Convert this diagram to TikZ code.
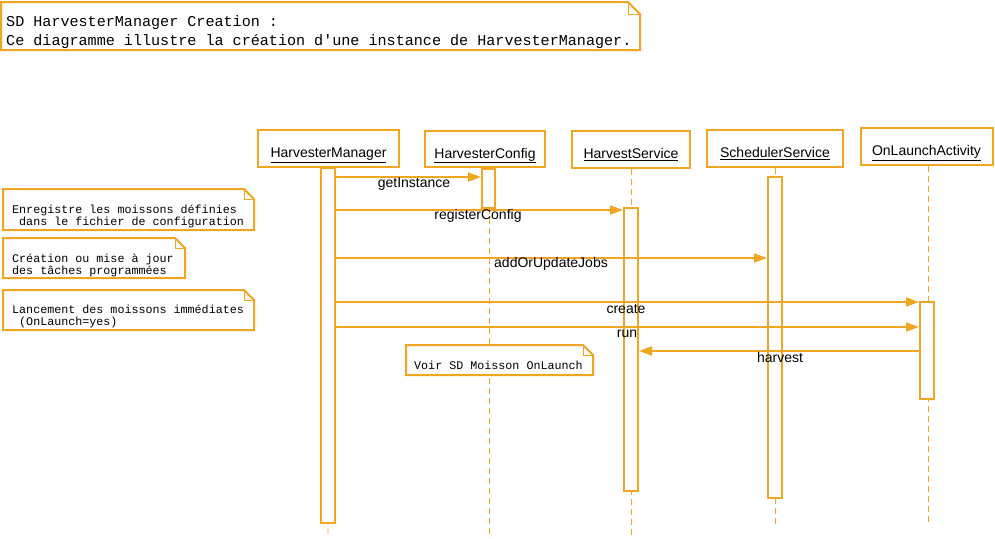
\documentclass[tikz,border=0pt]{standalone}
\usepackage{fontspec}
\setmainfont{Liberation Sans}
\newfontfamily\monof{Liberation Mono}[Ligatures=TeXOff]
\usetikzlibrary{arrows.meta}
\definecolor{umlor}{RGB}{240,165,35}
\newcommand\umlnote[5]{% x1,y1,x2,y2,fold
  \draw[notebd] (#1,#2) -- ({#3-#5},#2) -- (#3,{#2+#5}) -- (#3,#4) -- (#1,#4) -- cycle;
  \draw[foldln] ({#3-#5},#2) -- ({#3-#5},{#2+#5}) -- (#3,{#2+#5});}
\newcommand\headtxt[1]{\raisebox{-5pt}[10pt][2pt]{\underline{#1}}}
\begin{document}
\begin{tikzpicture}[x=1pt,y=-1pt,
  head/.style={draw=umlor,line width=2pt,fill=white,inner sep=0,font=\fontsize{14}{16}\selectfont},
  act/.style={draw=umlor,line width=2pt,fill=white,minimum width=14pt,inner sep=0},
  life/.style={draw=umlor,line width=0.8pt,dash pattern=on 6pt off 4pt},
  msg/.style={draw=umlor,line width=2pt,-{Triangle[length=13pt,width=9pt]}},
  lbl/.style={inner sep=0,font=\fontsize{14}{16}\selectfont},
  notetxt/.style={inner sep=0,anchor=base west,font=\monof\fontsize{11.7}{12}\selectfont},
  titletxt/.style={inner sep=0,anchor=base west,font=\monof\fontsize{15.1}{18}\selectfont},
  notebd/.style={draw=umlor,line width=2pt,fill=white},
  foldln/.style={draw=umlor,line width=0.8pt}]
\useasboundingbox (0,0) rectangle (995,538);

% title note
\umlnote{1}{2}{640}{50}{12}
\node[titletxt] (t1) at (6,27) {SD HarvesterManager Creation :};
\node[titletxt] (t2) at (6,45) {Ce diagramme illustre la création d'une instance de HarvesterManager.};

% heads
\node[head,minimum width=141pt,minimum height=37pt] (hm) at (328.5,148.5) {\headtxt{HarvesterManager}};
\node[head,minimum width=120pt,minimum height=36pt] (hc) at (485,149) {\headtxt{HarvesterConfig}};
\node[head,minimum width=118pt,minimum height=37pt] (hs) at (631,149.5) {\headtxt{HarvestService}};
\node[head,minimum width=136pt,minimum height=37pt] (ss) at (775,148.5) {\headtxt{SchedulerService}};
\node[head,minimum width=132pt,minimum height=37pt] (ola) at (926.5,146.5) {\headtxt{OnLaunchActivity}};

% lifelines
\coordinate (hmEnd) at (328,538);
\coordinate (hcEnd) at (489,538);
\coordinate (hsEnd) at (631,538);
\coordinate (ssEnd) at (775,526);
\coordinate (olaEnd) at (928,526);
\draw[life] (hm.south) -- (hmEnd);
\draw[life] (hc.south -| hcEnd) -- (hcEnd);
\draw[life] (hs.south) -- (hsEnd);
\draw[life] (ss.south) -- (ssEnd);
\draw[life] (ola.south -| olaEnd) -- (olaEnd);

% activations
\node[act,minimum height=355pt] (hmA) at (328,345.5) {};
\node[act,minimum width=13pt,minimum height=39pt] (hcA) at (488.5,188.5) {};
\node[act,minimum height=283pt] (hsA) at (631,349.5) {};
\node[act,minimum height=321pt] (ssA) at (775,337.5) {};
\node[act,minimum height=97pt] (olaA) at (927,350.5) {};

% messages
\draw[msg] (hmA.east |- 0,177) -- (hcA.west |- 0,177);
\draw[msg] (hmA.east |- 0,210) -- (hsA.west |- 0,210);
\draw[msg] (hmA.east |- 0,258) -- (ssA.west |- 0,258);
\draw[msg] (hmA.east |- 0,302) -- (olaA.west |- 0,302);
\draw[msg] (hmA.east |- 0,327) -- (olaA.west |- 0,327);
\draw[msg] (olaA.west |- 0,351) -- (hsA.east |- 0,351);

\node[lbl] (l1) at (414,184) {getInstance};
\node[lbl] (l2) at (478,216) {registerConfig};
\node[lbl] (l3) at (551,264) {addOrUpdateJobs};
\node[lbl] (l4) at (626,309) {create};
\node[lbl] (l5) at (627,334) {run};
\node[lbl] (l6) at (780,357) {harvest};

% side notes
\umlnote{3}{189}{254}{230}{10}
\node[notetxt] (n1a) at (12,213) {Enregistre les moissons définies};
\node[notetxt] (n1b) at (12,225) {\hphantom{x}dans le fichier de configuration};
\umlnote{3}{238}{185}{278}{10}
\node[notetxt] (n2a) at (12,262) {Création ou mise à jour};
\node[notetxt] (n2b) at (12,274) {des tâches programmées};
\umlnote{3}{290}{254}{330}{10}
\node[notetxt] (n3a) at (12,313) {Lancement des moissons immédiates};
\node[notetxt] (n3b) at (12,325) {\hphantom{x}(OnLaunch=yes)};
\umlnote{406}{345}{593}{375}{10}
\node[notetxt] (n4) at (414,369) {Voir SD Moisson OnLaunch};
\end{tikzpicture}
\end{document}
